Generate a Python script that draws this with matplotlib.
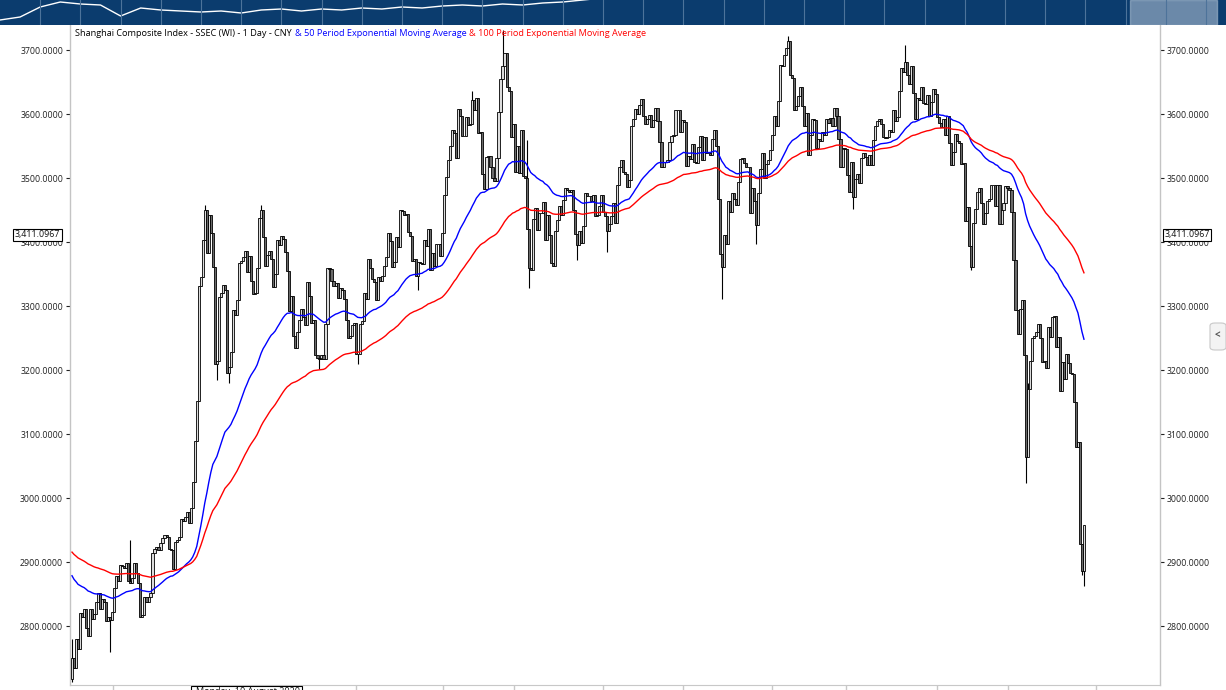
import matplotlib
matplotlib.use('Agg')
import matplotlib.pyplot as plt
from matplotlib.patches import Rectangle, FancyBboxPatch
from matplotlib.lines import Line2D

# ---------------- data (daily closes, SSEC) ----------------
first_open = 2718
c_2020_03 = [2750]
c_2020_04 = [2735, 2780, 2764, 2820, 2815, 2826, 2797, 2784, 2827, 2811, 2819, 2838, 2852, 2827,
             2843, 2838, 2808, 2815, 2810, 2822, 2860]
c_2020_05 = [2878, 2871, 2895, 2894, 2891, 2898, 2870, 2868, 2875, 2898, 2883, 2867, 2814, 2817,
             2846, 2837, 2846, 2852]
c_2020_06 = [2915, 2921, 2923, 2919, 2930, 2937, 2943, 2939, 2921, 2919, 2890, 2931, 2935, 2939,
             2967, 2965, 2970, 2979, 2961, 2985]
c_2020_07 = [3025, 3090, 3152, 3332, 3345, 3403, 3450, 3383, 3443, 3415, 3361, 3210, 3214, 3314,
             3320, 3333, 3325, 3196, 3205, 3228, 3294, 3286, 3310]
c_2020_08 = [3367, 3371, 3377, 3386, 3354, 3379, 3340, 3319, 3320, 3360, 3438, 3451, 3408, 3363,
             3380, 3386, 3373, 3330, 3350, 3403, 3396]
c_2020_09 = [3410, 3405, 3384, 3355, 3292, 3316, 3254, 3234, 3260, 3278, 3295, 3283, 3270, 3338,
             3316, 3274, 3279, 3223, 3219, 3217, 3224, 3218]
c_2020_10 = [3272, 3359, 3358, 3340, 3332, 3336, 3313, 3328, 3325, 3312, 3278, 3251, 3254, 3270,
             3273, 3225]
c_2020_11 = [3225, 3272, 3277, 3320, 3312, 3373, 3360, 3342, 3338, 3310, 3346, 3339, 3347, 3363,
             3377, 3414, 3402, 3362, 3369, 3408, 3392]
c_2020_12 = [3451, 3449, 3442, 3444, 3416, 3410, 3371, 3373, 3347, 3369, 3367, 3366, 3404, 3394,
             3420, 3357, 3383, 3363, 3397, 3397, 3379, 3414, 3473]
c_2021_01 = [3502, 3528, 3550, 3576, 3570, 3532, 3608, 3598, 3566, 3566, 3596, 3583, 3584, 3622,
             3607, 3625, 3570, 3573, 3506, 3483]
c_2021_02 = [3533, 3534, 3517, 3501, 3496, 3532, 3603, 3655, 3675, 3696, 3642, 3636, 3564, 3585,
             3509]
c_2021_03 = [3551, 3508, 3576, 3503, 3501, 3421, 3360, 3357, 3436, 3453, 3419, 3446, 3445, 3463,
             3404, 3443, 3411, 3367, 3363, 3418, 3435, 3457, 3442]
c_2021_04 = [3466, 3484, 3482, 3479, 3482, 3451, 3413, 3396, 3417, 3398, 3426, 3477, 3472, 3472,
             3465, 3474, 3441, 3442, 3457, 3474, 3447]
c_2021_05 = [3441, 3418, 3428, 3441, 3462, 3430, 3490, 3517, 3529, 3510, 3507, 3487, 3497, 3581,
             3593, 3608, 3600, 3615]
c_2021_06 = [3624, 3597, 3584, 3592, 3599, 3580, 3591, 3610, 3589, 3556, 3518, 3525, 3525, 3529,
             3557, 3566, 3567, 3607, 3606, 3573, 3591]
c_2021_07 = [3588, 3519, 3534, 3530, 3553, 3525, 3524, 3548, 3566, 3528, 3564, 3539, 3539, 3536,
             3562, 3575, 3550, 3467, 3382, 3361, 3412, 3397]
c_2021_08 = [3465, 3447, 3477, 3467, 3458, 3494, 3530, 3532, 3524, 3517, 3517, 3446, 3485, 3465,
             3427, 3477, 3514, 3540, 3501, 3522, 3528, 3544]
c_2021_09 = [3567, 3597, 3581, 3621, 3677, 3676, 3693, 3703, 3715, 3662, 3656, 3607, 3613, 3628,
             3642, 3613, 3582, 3602, 3536, 3568]
c_2021_10 = [3592, 3591, 3547, 3561, 3558, 3573, 3568, 3593, 3587, 3594, 3582, 3609, 3597, 3562,
             3518, 3547]
c_2021_11 = [3545, 3505, 3478, 3526, 3470, 3499, 3507, 3492, 3532, 3539, 3533, 3521, 3537, 3520,
             3560, 3582, 3589, 3592, 3584, 3564, 3563, 3564]
c_2021_12 = [3576, 3573, 3607, 3589, 3595, 3637, 3673, 3666, 3681, 3661, 3647, 3675, 3633, 3593,
             3625, 3622, 3643, 3618, 3616, 3630, 3597, 3619, 3640]
c_2022_01 = [3632, 3595, 3586, 3580, 3593, 3567, 3597, 3555, 3521, 3541, 3569, 3558, 3555, 3522,
             3524, 3433, 3455, 3394, 3361]
c_2022_02 = [3430, 3452, 3479, 3485, 3462, 3429, 3446, 3465, 3468, 3490, 3490, 3457, 3489, 3429,
             3451, 3462]
c_2022_03 = [3488, 3484, 3481, 3447, 3372, 3294, 3256, 3296, 3309, 3224, 3064, 3171, 3215, 3251,
             3253, 3259, 3272, 3251, 3212, 3215, 3203, 3267, 3252]
c_2022_04 = [3283, 3284, 3237, 3252, 3167, 3213, 3186, 3226, 3211, 3195, 3194, 3151, 3080, 3087,
             2929, 2886, 2958]

# notable intraday extremes (day index, value)
wick_high_day = [0, 29, 66, 94, 199, 214, 226, 356, 414, 475]
wick_high_val = [2780, 2934, 3458, 3458, 3637, 3731, 3560, 3723, 3708, 3180]
wick_low_day = [0, 19, 72, 78, 123, 142, 172, 227, 251, 266, 323, 340, 388, 447, 474, 502, 503]
wick_low_val = [2712, 2760, 3184, 3180, 3202, 3209, 3325, 3328, 3372, 3384, 3312, 3397, 3452,
                3357, 3023, 2880, 2863]

ema50_seed = 2884
ema100_seed = 2919
last_price_label = "3,411.0967"
y_ticks = [2800, 2900, 3000, 3100, 3200, 3300, 3400, 3500, 3600, 3700]

# navigator (long-history overview line, level units; strip shows levels 0..25)
nav_values = [5, 8, 18, 23, 21, 20, 9, 17, 15, 14, 13, 14, 12, 15, 16, 14, 16, 15, 17, 16, 18,
              17, 19, 20, 19, 21, 20, 22, 23, 25, 27, 29, 30, 31, 33, 32, 34, 35, 34, 36, 35, 37,
              36, 38, 37, 36, 38, 37, 39, 38, 37, 36, 38, 40, 39, 38, 37, 38, 39, 40, 39, 38]

# ---------------- figure ----------------
W, H = 1226, 690
fig = plt.figure(figsize=(W / 100, H / 100), dpi=100)
FONT = ['Open Sans', 'DejaVu Sans']
plt.rcParams['font.family'] = FONT


def fx(px):
    return px / W


def fy(py):
    return 1 - py / H


closes = (c_2020_03 + c_2020_04 + c_2020_05 + c_2020_06 + c_2020_07 + c_2020_08 + c_2020_09 +
          c_2020_10 + c_2020_11 + c_2020_12 + c_2021_01 + c_2021_02 + c_2021_03 + c_2021_04 +
          c_2021_05 + c_2021_06 + c_2021_07 + c_2021_08 + c_2021_09 + c_2021_10 + c_2021_11 +
          c_2021_12 + c_2022_01 + c_2022_02 + c_2022_03 + c_2022_04)
opens = [first_open] + closes[:-1]
n = len(closes)
highs = [max(o, c) for o, c in zip(opens, closes)]
lows = [min(o, c) for o, c in zip(opens, closes)]
for d, v in zip(wick_high_day, wick_high_val):
    highs[d] = max(highs[d], v)
for d, v in zip(wick_low_day, wick_low_val):
    lows[d] = min(lows[d], v)


def ema(values, period, seed):
    a = 2.0 / (period + 1)
    out, e = [], seed
    for v in values:
        e = e + a * (v - e)
        out.append(e)
    return out


ema50 = ema(closes, 50, ema50_seed)
ema100 = ema(closes, 100, ema100_seed)

# main axes
ax = fig.add_axes([fx(70), fy(685), fx(1160 - 70), (685 - 24) / H])
ax.set_xlim(-1, 540.8)
ax.set_ylim(2708, 3741)
xs = list(range(n))

ax.vlines(xs, lows, highs, color='black', linewidth=0.8, zorder=2)
up = [i for i in xs if closes[i] >= opens[i]]
dn = [i for i in xs if closes[i] < opens[i]]
ax.bar(up, [closes[i] - opens[i] for i in up], bottom=[opens[i] for i in up], width=1.05,
       facecolor='#dcdcdc', edgecolor='black', linewidth=0.6, zorder=3)
ax.bar(dn, [opens[i] - closes[i] for i in dn], bottom=[closes[i] for i in dn], width=1.05,
       facecolor='#6a6a6a', edgecolor='black', linewidth=0.6, zorder=3)
ax.plot(xs, ema50, color='#0000ff', linewidth=1.0, zorder=4)
ax.plot(xs, ema100, color='#ff0000', linewidth=1.0, zorder=4)

ax.set_xticks([])
ax.set_yticks(y_ticks)
ax.set_yticklabels([f'{v:.4f}' for v in y_ticks])
ax.tick_params(axis='y', left=True, right=True, labelleft=True, labelright=True,
               length=3, width=0.8, pad=2, labelsize=6.3, colors='#222222')
for s in ['left', 'right']:
    ax.spines[s].set_color('#c4c4c4')
    ax.spines[s].set_linewidth(1.0)
ax.spines['top'].set_visible(False)
ax.spines['bottom'].set_color('#c8c8c8')

# title, three coloured parts chained
fig.canvas.draw()
r = fig.canvas.get_renderer()
parts = [("Shanghai Composite Index - SSEC (WI) - 1 Day - CNY", 'black'),
         ("& 50 Period Exponential Moving Average", '#0000ff'),
         ("& 100 Period Exponential Moving Average", '#ff0000')]
x0 = 75
for txt, col in parts:
    t = fig.text(fx(x0), fy(33), txt, color=col, fontsize=6.55, va='center', ha='left',
                 family=FONT)
    bb = t.get_window_extent(renderer=r)
    x0 = bb.x1 + 3

# last-price boxes
for cx in (37.5, 1187):
    fig.text(fx(cx), fy(235), last_price_label, ha='center', va='center', fontsize=6.4,
             color='#111111', family=FONT,
             bbox=dict(boxstyle='square,pad=0.2', fc='white', ec='black', lw=0.8))

# collapse button on the right
fig.add_artist(FancyBboxPatch((fx(1210), fy(350)), fx(16), 27 / H,
                              boxstyle='round,pad=0.0,rounding_size=0.004',
                              fc='#f3f3f3', ec='#c8c8c8', lw=0.8, transform=fig.transFigure))
fig.text(fx(1217), fy(336), '<', ha='center', va='center', fontsize=7, color='#555555',
         fontweight='bold', family=FONT)

# bottom date strip
for px in [113, 356, 443, 514, 603, 683, 772, 846, 937, 1008, 1096]:
    fig.add_artist(Line2D([fx(px), fx(px)], [fy(686), fy(690)], color='#c8c8c8', lw=1,
                          transform=fig.transFigure))
fig.add_artist(Rectangle((fx(191), fy(700)), fx(111), 14 / H, fc='white', ec='black', lw=0.8,
                         transform=fig.transFigure))
fig.text(fx(196), fy(687), 'Monday, 10 August 2020', ha='left', va='top', fontsize=6.5,
         color='#111111', family=FONT)

# navigator strip on top
nav = fig.add_axes([0, fy(25), 1, 25 / H])
nav.set_facecolor('#0b3c6e')
nav.set_xlim(0, len(nav_values) - 1)
nav.set_ylim(0, 25)
nav.plot(range(len(nav_values)), nav_values, color='white', linewidth=1.0)
for k in range(1, 31):
    nav.axvline(k * (len(nav_values) - 1) / 30.5, color='#4d739a', lw=0.8)
nav.axvspan((len(nav_values) - 1) * 1130 / 1226, (len(nav_values) - 1) * 1217 / 1226,
            color='#9fb4c9', alpha=0.65)
nav.set_xticks([])
nav.set_yticks([])
for s in nav.spines.values():
    s.set_visible(False)

fig.savefig('out.png', dpi=100)
